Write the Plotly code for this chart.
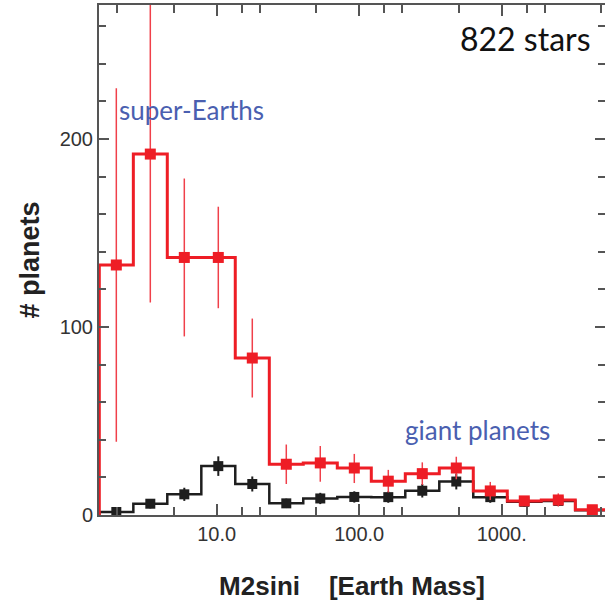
import plotly.graph_objects as go

# ---- data ----
bin_edges = [1.5, 2.6, 4.5, 7.8, 13.5, 23.4, 40.5, 70.2, 121.6, 210.6,
             364.8, 631.9, 1094.6, 1896.0, 3284.0, 5689.0]
red_counts = [133, 192, 137, 137, 83.5, 27, 27.7, 25, 18, 22, 25, 12.8, 7.5, 8, 2.8]
red_err_plus = [94, 82, 42, 27, 21, 10.5, 9, 7.5, 6, 6, 6, 4.8, 2.5, 3.5, 2]
red_err_minus = [94, 79, 42, 27, 21, 10.5, 10, 8, 6, 6, 6, 4.8, 2.5, 3.5, 2]
black_counts = [1.6, 6, 11, 26, 16.5, 6.2, 8.8, 9.6, 9.5, 12.9, 17.8, 9.5, 7, 7.5, 2.5]
black_err = [1.3, 2.5, 3.5, 5.2, 4.0, 2.5, 3.0, 3.0, 3.0, 3.6, 4.2, 3.0, 2.6, 2.7, 1.6]

x_tick_vals = [10, 100, 1000]
x_tick_text = ["10.0", "100.0", "1000."]
x_minor_vals = [1.5, 2, 5, 15, 20, 50, 150, 200, 500, 1500, 2000, 5000]
y_tick_vals = [0, 100, 200]
y_tick_text = ["0", "100", "200"]

# bin centres (geometric)
centers = [(bin_edges[i] * bin_edges[i + 1]) ** 0.5 for i in range(len(bin_edges) - 1)]

RED = "#ee1d25"
RED_ERR = "#f0404a"
BLACK = "#1e1e1e"
AXIS = "#555555"
BLUE = "#4a5fb0"

def step_xy(edges, counts):
    xs = [edges[0]] + list(edges)
    ys = [0] + list(counts) + [counts[-1]]
    return xs, ys

fig = go.Figure()

bx, by = step_xy(bin_edges, black_counts)
fig.add_trace(go.Scatter(x=bx, y=by, mode="lines", line=dict(color=BLACK, width=2.5, shape="hv"),
                         hoverinfo="skip", showlegend=False))
fig.add_trace(go.Scatter(x=centers, y=black_counts, mode="markers",
                         marker=dict(symbol="square", size=10, color=BLACK),
                         error_y=dict(type="data", array=black_err, color=BLACK, thickness=2, width=0),
                         showlegend=False))

rx, ry = step_xy(bin_edges, red_counts)
fig.add_trace(go.Scatter(x=rx, y=ry, mode="lines", line=dict(color=RED, width=3, shape="hv"),
                         hoverinfo="skip", showlegend=False))
fig.add_trace(go.Scatter(x=centers, y=red_counts, mode="markers",
                         marker=dict(symbol="square", size=11, color=RED),
                         error_y=dict(type="data", symmetric=False, array=red_err_plus,
                                      arrayminus=red_err_minus, color=RED_ERR, thickness=1.5, width=0),
                         showlegend=False))

tickfont = dict(family="Liberation Sans, Arial, sans-serif", size=20, color="#333333")
titlefont = dict(family="Liberation Sans, Arial, sans-serif", size=26, color="#222222")

fig.update_layout(
    width=605, height=611,
    margin=dict(l=99, r=0, t=5, b=96),
    paper_bgcolor="white", plot_bgcolor="white",
    xaxis=dict(
        type="log", range=[0.174, 3.725], automargin=False,
        showgrid=False, zeroline=False,
        showline=True, linecolor=AXIS, linewidth=2, mirror="ticks",
        ticks="inside", ticklen=11, tickwidth=1.5, tickcolor=AXIS,
        tickmode="array", tickvals=x_tick_vals, ticktext=x_tick_text,
        tickfont=tickfont,
        minor=dict(tickmode="array", tickvals=x_minor_vals, ticks="inside",
                   ticklen=8, tickwidth=1.5, tickcolor=AXIS),
        title=dict(text="<b>M2sini\u00a0\u00a0\u00a0\u00a0[Earth Mass]</b>",
                   font=titlefont, standoff=33),
    ),
    yaxis=dict(
        range=[0, 271.3], automargin=False,
        showgrid=False, zeroline=False,
        showline=True, linecolor=AXIS, linewidth=2, mirror="ticks",
        ticks="inside", ticklen=10, tickwidth=1.5, tickcolor=AXIS,
        tickmode="array", tickvals=y_tick_vals, ticktext=y_tick_text,
        tickfont=tickfont,
        minor=dict(tickmode="linear", tick0=0, dtick=20, ticks="inside",
                   ticklen=7, tickwidth=1.5, tickcolor=AXIS),
        title=dict(text="<b># planets</b>",
                   font=dict(family="Liberation Sans, Arial, sans-serif", size=27, color="#222222"),
                   standoff=12),
    ),
    annotations=[
        dict(text="822 stars", xref="paper", yref="paper", x=0.976, y=0.935,
             xanchor="right", yanchor="middle", showarrow=False,
             font=dict(family="Lato, sans-serif", size=32, color="#111111")),
        dict(text="super-Earths", xref="paper", yref="paper", x=0.0356, y=0.794,
             xanchor="left", yanchor="middle", showarrow=False,
             font=dict(family="Lato, sans-serif", size=26, color=BLUE)),
        dict(text="giant planets", xref="paper", yref="paper", x=0.601, y=0.1667,
             xanchor="left", yanchor="middle", showarrow=False,
             font=dict(family="Lato, sans-serif", size=26, color=BLUE)),
    ],
)

fig.write_html("out.html", config={"displayModeBar": False},
               post_script="document.body.style.margin='0';")
